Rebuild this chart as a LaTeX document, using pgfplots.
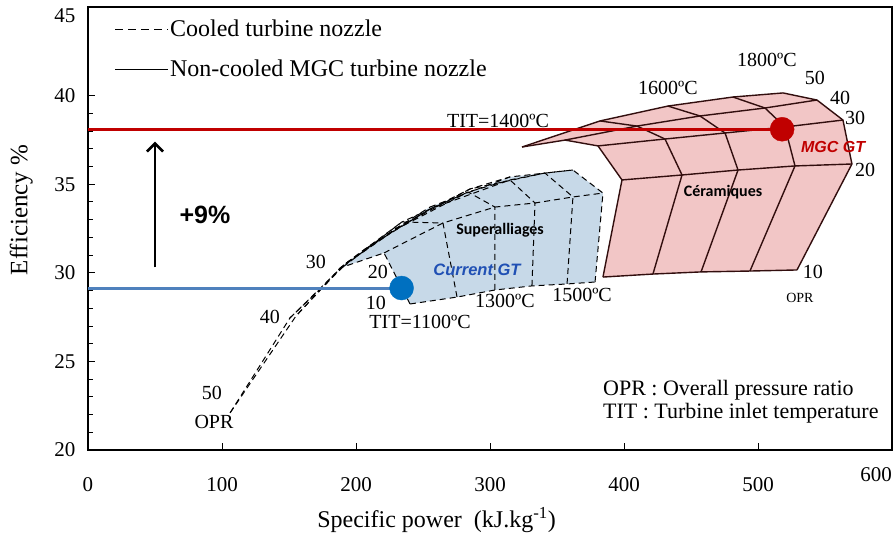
\documentclass[border=0pt]{standalone}
\usepackage{fontspec}
\setmainfont{Liberation Serif}
\newfontfamily\arial{Liberation Sans}
\newfontfamily\calib{Carlito}
\usepackage{pgfplots}
\pgfplotsset{compat=1.18}
\usetikzlibrary{arrows.meta}

\definecolor{pinkfill}{RGB}{242,198,198}
\definecolor{bluefill}{RGB}{199,217,232}
\definecolor{carpet}{RGB}{50,14,14}
\definecolor{mgcred}{RGB}{192,0,0}
\definecolor{gtblue}{RGB}{0,112,192}
\definecolor{lineblue}{RGB}{79,129,189}
\definecolor{txtblue}{RGB}{32,80,180}

\newcommand{\fs}[1]{\fontsize{#1}{#1}\selectfont}

\pgfplotsset{
  cool/.style={black, line width=1pt, dash pattern=on 6pt off 4pt},
  hot/.style={carpet, line width=1.4pt},
}

\begin{document}
\begin{tikzpicture}
\useasboundingbox (-88pt,-85pt) rectangle (805pt,450pt);
\begin{axis}[
  scale only axis, width=804pt, height=443pt,
  xmin=0, xmax=600, ymin=20, ymax=45,
  xtick={0,100,...,500}, ytick={20,25,...,40},
  minor y tick num=4,
  extra x ticks={600},
  extra x tick style={xticklabel style={yshift=10pt, xshift=-16pt}, major tick length=0pt},
  extra y ticks={45},
  extra y tick style={yticklabel style={yshift=-9pt}, major tick length=0pt},
  tick align=inside, xtick pos=left, ytick pos=left,
  major tick length=7pt, minor tick length=5pt,
  axis line style={line width=1.3pt},
  every tick/.style={black, line width=0.9pt},
  tick label style={font=\fs{21}},
  /pgf/number format/assume math mode=true,
  xticklabel style={yshift=-24pt},
  yticklabel style={xshift=-9pt},
  xlabel={Specific power~~(kJ.kg\textsuperscript{-1})},
  ylabel={Efficiency \%},
  xlabel style={font=\fs{24}, at={(axis description cs:0.4335,-0.158)}, anchor=center},
  ylabel style={font=\fs{25}, at={(axis description cs:-0.083,0.542)}, anchor=center},
  legend style={at={(axis description cs:0.033,0.973)}, anchor=north west,
    draw=none, fill=none, font=\fs{24}, row sep=20pt, inner sep=0pt,
    nodes={inner sep=1pt}},
  legend cell align=left,
  legend image code/.code={\draw[#1] (0pt,0pt) -- (53pt,0pt);},
]
\addlegendimage{black, line width=1pt, dash pattern=on 8pt off 5pt}
\addlegendentry{Cooled turbine nozzle}
\addlegendimage{hot, black}
\addlegendentry{Non-cooled MGC turbine nozzle}

% cooled carpet (superalloys)
\addplot[fill=bluefill, draw=none] coordinates {
  (240.3,28.24) (275.4,28.63) (303.7,29.03) (331.3,29.26) (357.5,29.37) (378.4,29.48)
  (384.3,34.50) (361.9,35.80) (314.9,35.41) (255.2,33.71) (229.1,32.47) (206.7,31.34)
  (188.1,30.27) (190.3,30.33) (220.9,31.12)} -- cycle;
% OPR rows
\addplot[cool] coordinates {(240.3,28.24) (275.4,28.63) (303.7,29.03) (331.3,29.26) (357.5,29.37) (378.4,29.48)};
\addplot[cool] coordinates {(220.9,31.12) (264.9,32.81) (303.7,33.71) (333.6,33.94) (361.9,34.28) (384.3,34.50)};
\addplot[cool] coordinates {(190.3,30.33) (234.3,32.87) (283.6,34.56) (314.9,35.24) (341.0,35.63) (361.9,35.80)};
\addplot[cool] coordinates {(150.7,27.45) (191.8,30.50) (229.1,32.42) (255.2,33.60) (285.1,34.73) (314.9,35.41)};
\addplot[cool] coordinates {(106.0,22.09) (155.2,27.56) (188.1,30.27) (206.7,31.34) (229.1,32.47) (255.2,33.71)};
% TIT columns
\addplot[cool] coordinates {(240.3,28.24) (220.9,31.12) (190.3,30.33) (150.7,27.45) (106.0,22.09)};
\addplot[cool] coordinates {(275.4,28.63) (264.9,32.81) (234.3,32.87) (191.8,30.50) (155.2,27.56)};
\addplot[cool] coordinates {(303.7,29.03) (303.7,33.71) (283.6,34.56) (229.1,32.42) (188.1,30.27)};
\addplot[cool] coordinates {(331.3,29.26) (333.6,33.94) (314.9,35.24) (255.2,33.60) (206.7,31.34)};
\addplot[cool] coordinates {(357.5,29.37) (361.9,34.28) (341.0,35.63) (285.1,34.73) (229.1,32.47)};
\addplot[cool] coordinates {(378.4,29.48) (384.3,34.50) (361.9,35.80) (314.9,35.41) (255.2,33.71)};

% non-cooled carpet (ceramics)
\addplot[fill=pinkfill, draw=none] coordinates {
  (384.3,29.76) (398.5,35.24) (380.6,37.16) (356.0,37.49) (323.9,37.10)
  (382.1,38.57) (432.8,39.41) (481.3,39.92) (518.7,40.15)
  (544.0,39.75) (563.4,38.62) (570.1,36.14) (529.1,30.16)
  (494.0,30.10) (457.5,30.05) (421.6,29.93)} -- cycle;
\addplot[hot] coordinates {(384.3,29.76) (421.6,29.93) (457.5,30.05) (494.0,30.10) (529.1,30.16)};
\addplot[hot] coordinates {(398.5,35.24) (443.3,35.52) (485.1,35.80) (527.6,36.03) (570.1,36.14)};
\addplot[hot] coordinates {(380.6,37.16) (430.6,37.55) (475.4,37.89) (520.1,38.23) (563.4,38.62)};
\addplot[hot] coordinates {(356.0,37.49) (409.7,38.28) (456.7,38.85) (505.2,39.30) (544.0,39.75)};
\addplot[hot] coordinates {(323.9,37.10) (382.1,38.57) (432.8,39.41) (481.3,39.92) (518.7,40.15)};
\addplot[hot] coordinates {(384.3,29.76) (398.5,35.24) (380.6,37.16) (356.0,37.49) (323.9,37.10)};
\addplot[hot] coordinates {(421.6,29.93) (443.3,35.52) (430.6,37.55) (409.7,38.28) (382.1,38.57)};
\addplot[hot] coordinates {(457.5,30.05) (485.1,35.80) (475.4,37.89) (456.7,38.85) (432.8,39.41)};
\addplot[hot] coordinates {(494.0,30.10) (527.6,36.03) (520.1,38.23) (505.2,39.30) (481.3,39.92)};
\addplot[hot] coordinates {(529.1,30.16) (570.1,36.14) (563.4,38.62) (544.0,39.75) (518.7,40.15)};

% reference levels and design points
\addplot[mgcred, line width=2.6pt] coordinates {(0,38.1) (518,38.1)};
\addplot[lineblue, line width=2.6pt] coordinates {(0,29.1) (234,29.1)};
\addplot[only marks, mark=*, mark size=12pt, mgcred, mark options={fill=mgcred, draw=mgcred}] coordinates {(518,38.1)};
\addplot[only marks, mark=*, mark size=12pt, gtblue, mark options={fill=gtblue, draw=gtblue}] coordinates {(234,29.14)};
\addplot[black, line width=2.6pt, -{Straight Barb[length=8pt,width=16pt]}] coordinates {(50,30.3) (50,37.4)};

% labels
\begin{scope}[every node/.style={font=\fs{20}, inner sep=0pt}]
\node at (axis cs:306.0,38.55) {TIT=1400ºC};
\node at (axis cs:432.8,40.43) {1600ºC};
\node at (axis cs:506.7,42.01) {1800ºC};
\node at (axis cs:542.5,40.99) {50};
\node at (axis cs:561.2,39.86) {40};
\node at (axis cs:572.4,38.74) {30};
\node at (axis cs:579.9,35.80) {20};
\node at (axis cs:541.0,30.05) {10};
\node[font=\fs{14}] at (axis cs:531.3,28.58) {OPR};
\node at (axis cs:170.1,30.61) {30};
\node at (axis cs:135.8,27.51) {40};
\node at (axis cs:92.5,23.22) {50};
\node at (axis cs:94.0,21.58) {OPR};
\node at (axis cs:216.4,30.05) {20};
\node at (axis cs:214.9,28.30) {10};
\node at (axis cs:247.8,27.22) {TIT=1100ºC};
\node at (axis cs:311.2,28.41) {1300ºC};
\node at (axis cs:368.7,28.75) {1500ºC};
\node[font=\fs{22}, anchor=west] at (axis cs:384.3,23.39) {OPR : Overall pressure ratio};
\node[font=\fs{22}, anchor=west] at (axis cs:384.3,22.09) {TIT : Turbine inlet temperature};
\end{scope}
\node[font=\calib\bfseries\fs{16}] at (axis cs:307.5,32.42) {Superalliages};
\node[font=\calib\bfseries\fs{16}] at (axis cs:473.9,34.56) {Céramiques};
\node[font=\arial\bfseries\itshape\fs{16.5}, text=txtblue] at (axis cs:290.3,30.16) {Current GT};
\node[font=\arial\bfseries\itshape\fs{16}, text=mgcred] at (axis cs:556.0,37.10) {MGC GT};
\node[font=\arial\bfseries\fs{25}] at (axis cs:87.3,33.26) {+9\%};
\end{axis}
\end{tikzpicture}
\end{document}
